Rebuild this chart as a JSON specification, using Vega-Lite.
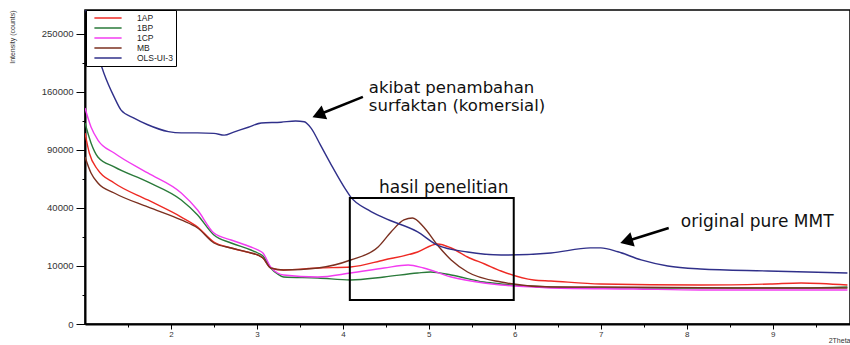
{
  "$schema": "https://vega.github.io/schema/vega-lite/v6.json",
  "width": 765,
  "height": 314,
  "autosize": {"type": "none"},
  "padding": {"left": 85, "top": 10, "right": 0, "bottom": 21},
  "background": "white",
  "config": {
    "view": {"stroke": "#000", "strokeWidth": 1.5},
    "font": "Liberation Sans",
    "axis": {"grid": false, "domainColor": "#000", "tickColor": "#000", "labelColor": "#333", "labelFont": "Liberation Sans", "titleFont": "Liberation Sans", "titleFontWeight": "normal", "titleColor": "#333"}
  },
  "datasets": {
    "xrd": [
      {"s":"1AP","t":1.0,"i":108400},{"s":"1AP","t":1.05,"i":86900},{"s":"1AP","t":1.15,"i":70500},{"s":"1AP","t":1.34,"i":59100},{"s":"1AP","t":1.73,"i":45700},{"s":"1AP","t":2.12,"i":34000},{"s":"1AP","t":2.31,"i":27970},{"s":"1AP","t":2.5,"i":19990},{"s":"1AP","t":2.7,"i":17170},{"s":"1AP","t":2.93,"i":14980},{"s":"1AP","t":3.01,"i":14150},{"s":"1AP","t":3.07,"i":12950},{"s":"1AP","t":3.16,"i":9320},{"s":"1AP","t":3.31,"i":8670},{"s":"1AP","t":3.71,"i":9320},{"s":"1AP","t":4.09,"i":9660},{"s":"1AP","t":4.48,"i":12180},{"s":"1AP","t":4.87,"i":15410},{"s":"1AP","t":5.1,"i":19020},{"s":"1AP","t":5.26,"i":17170},{"s":"1AP","t":5.45,"i":13340},{"s":"1AP","t":5.65,"i":10700},{"s":"1AP","t":5.84,"i":8350},{"s":"1AP","t":6.22,"i":5760},{"s":"1AP","t":6.42,"i":5500},{"s":"1AP","t":7.0,"i":4760},{"s":"1AP","t":8.16,"i":4520},{"s":"1AP","t":8.97,"i":4760},{"s":"1AP","t":9.33,"i":5000},{"s":"1AP","t":9.87,"i":4520},
      {"s":"1BP","t":1.0,"i":120100},{"s":"1BP","t":1.07,"i":97400},{"s":"1BP","t":1.15,"i":82900},{"s":"1BP","t":1.34,"i":73300},{"s":"1BP","t":1.73,"i":59940},{"s":"1BP","t":2.12,"i":45700},{"s":"1BP","t":2.31,"i":35300},{"s":"1BP","t":2.5,"i":23550},{"s":"1BP","t":2.7,"i":19500},{"s":"1BP","t":2.93,"i":16280},{"s":"1BP","t":3.01,"i":14980},{"s":"1BP","t":3.07,"i":13740},{"s":"1BP","t":3.16,"i":9320},{"s":"1BP","t":3.24,"i":7430},{"s":"1BP","t":3.31,"i":6570},{"s":"1BP","t":3.71,"i":6290},{"s":"1BP","t":4.09,"i":5760},{"s":"1BP","t":4.48,"i":6570},{"s":"1BP","t":4.87,"i":7730},{"s":"1BP","t":5.02,"i":8040},{"s":"1BP","t":5.26,"i":7140},{"s":"1BP","t":5.64,"i":5240},{"s":"1BP","t":5.84,"i":4760},{"s":"1BP","t":6.42,"i":4070},{"s":"1BP","t":7.0,"i":3850},{"s":"1BP","t":8.16,"i":3850},{"s":"1BP","t":9.33,"i":3850},{"s":"1BP","t":9.87,"i":4070},
      {"s":"1CP","t":1.0,"i":138700},{"s":"1CP","t":1.07,"i":115400},{"s":"1CP","t":1.15,"i":100600},{"s":"1CP","t":1.34,"i":86900},{"s":"1CP","t":1.73,"i":67800},{"s":"1CP","t":2.12,"i":51000},{"s":"1CP","t":2.31,"i":38600},{"s":"1CP","t":2.5,"i":24600},{"s":"1CP","t":2.7,"i":20970},{"s":"1CP","t":2.93,"i":17620},{"s":"1CP","t":3.01,"i":16280},{"s":"1CP","t":3.07,"i":14980},{"s":"1CP","t":3.16,"i":9660},{"s":"1CP","t":3.24,"i":7730},{"s":"1CP","t":3.31,"i":7140},{"s":"1CP","t":3.71,"i":6570},{"s":"1CP","t":4.09,"i":7730},{"s":"1CP","t":4.48,"i":9320},{"s":"1CP","t":4.76,"i":10350},{"s":"1CP","t":4.94,"i":9320},{"s":"1CP","t":5.26,"i":6570},{"s":"1CP","t":5.64,"i":5000},{"s":"1CP","t":5.84,"i":4520},{"s":"1CP","t":6.22,"i":4070},{"s":"1CP","t":6.42,"i":3850},{"s":"1CP","t":7.38,"i":3640},{"s":"1CP","t":8.16,"i":3440},{"s":"1CP","t":9.87,"i":3440},
      {"s":"MB","t":1.0,"i":82900},{"s":"MB","t":1.07,"i":67800},{"s":"MB","t":1.15,"i":59100},{"s":"MB","t":1.34,"i":51000},{"s":"MB","t":1.73,"i":40700},{"s":"MB","t":2.12,"i":32150},{"s":"MB","t":2.31,"i":27400},{"s":"MB","t":2.5,"i":19500},{"s":"MB","t":2.7,"i":17170},{"s":"MB","t":2.93,"i":14980},{"s":"MB","t":3.01,"i":14150},{"s":"MB","t":3.07,"i":12950},{"s":"MB","t":3.16,"i":9320},{"s":"MB","t":3.31,"i":8670},{"s":"MB","t":3.71,"i":9320},{"s":"MB","t":4.09,"i":12180},{"s":"MB","t":4.41,"i":17620},{"s":"MB","t":4.56,"i":25160},{"s":"MB","t":4.71,"i":32150},{"s":"MB","t":4.81,"i":33400},{"s":"MB","t":4.94,"i":27970},{"s":"MB","t":5.1,"i":18550},{"s":"MB","t":5.26,"i":12180},{"s":"MB","t":5.45,"i":8040},{"s":"MB","t":5.84,"i":5240},{"s":"MB","t":6.42,"i":4070},{"s":"MB","t":7.0,"i":4070},{"s":"MB","t":8.55,"i":3850},{"s":"MB","t":9.87,"i":3850},
      {"s":"OLS-UI-3","t":1.0,"i":300000},{"s":"OLS-UI-3","t":1.08,"i":250000},{"s":"OLS-UI-3","t":1.15,"i":215000},{"s":"OLS-UI-3","t":1.22,"i":187000},{"s":"OLS-UI-3","t":1.34,"i":153000},{"s":"OLS-UI-3","t":1.42,"i":136000},{"s":"OLS-UI-3","t":1.57,"i":126000},{"s":"OLS-UI-3","t":1.73,"i":118000},{"s":"OLS-UI-3","t":1.97,"i":110000},{"s":"OLS-UI-3","t":2.12,"i":108500},{"s":"OLS-UI-3","t":2.31,"i":108500},{"s":"OLS-UI-3","t":2.5,"i":108000},{"s":"OLS-UI-3","t":2.62,"i":106000},{"s":"OLS-UI-3","t":2.73,"i":109500},{"s":"OLS-UI-3","t":2.9,"i":115000},{"s":"OLS-UI-3","t":3.05,"i":120000},{"s":"OLS-UI-3","t":3.28,"i":121000},{"s":"OLS-UI-3","t":3.45,"i":122500},{"s":"OLS-UI-3","t":3.55,"i":121500},{"s":"OLS-UI-3","t":3.63,"i":114000},{"s":"OLS-UI-3","t":3.74,"i":95000},{"s":"OLS-UI-3","t":3.86,"i":76000},{"s":"OLS-UI-3","t":4.03,"i":54000},{"s":"OLS-UI-3","t":4.09,"i":48000},{"s":"OLS-UI-3","t":4.3,"i":38600},{"s":"OLS-UI-3","t":4.48,"i":33400},{"s":"OLS-UI-3","t":4.87,"i":25200},{"s":"OLS-UI-3","t":5.1,"i":18500},{"s":"OLS-UI-3","t":5.45,"i":15400},{"s":"OLS-UI-3","t":5.84,"i":14150},{"s":"OLS-UI-3","t":6.42,"i":15000},{"s":"OLS-UI-3","t":6.88,"i":17200},{"s":"OLS-UI-3","t":7.0,"i":17200},{"s":"OLS-UI-3","t":7.2,"i":15500},{"s":"OLS-UI-3","t":7.47,"i":12200},{"s":"OLS-UI-3","t":7.78,"i":10000},{"s":"OLS-UI-3","t":8.16,"i":9000},{"s":"OLS-UI-3","t":8.94,"i":8350},{"s":"OLS-UI-3","t":9.87,"i":7730}
    ],
    "notes": [
      {"x": 4.302, "y": 177000, "label": "akibat penambahan\nsurfaktan (komersial)", "kind": "left"},
      {"x": 5.174, "y": 55000, "label": "hasil penelitian", "kind": "center"},
      {"x": 8.82, "y": 30930, "label": "original pure MMT", "kind": "center"}
    ],
    "arrows": [
      {"id": "a1", "x": 4.233, "y": 153200, "x2": 3.716, "y2": 130100},
      {"id": "a2", "x": 7.791, "y": 27400, "x2": 7.299, "y2": 20380}
    ],
    "box": [{"x": 4.081, "x2": 5.988, "y": 47200, "y2": 1710}]
  },
  "layer": [
    {
      "data": {"name": "xrd"},
      "mark": {"type": "line", "strokeWidth": 1.4, "clip": true, "interpolate": "monotone"},
      "encoding": {
        "x": {"field": "t", "type": "quantitative", "scale": {"domain": [1, 9.9], "nice": false, "zero": false},
          "axis": {"values": [2,3,4,5,6,7,8,9], "labelFontSize": 8, "tickSize": 5, "tickWidth": 1, "domainWidth": 2, "labelPadding": 1,
            "title": "2Theta", "titleFontSize": 7, "titleAnchor": "end", "titleAlign": "right", "titleBaseline": "middle", "titleX": 765, "titleY": 16}},
        "y": {"field": "i", "type": "quantitative", "scale": {"type": "sqrt", "domain": [0, 293000], "nice": false},
          "axis": {"values": [0,10000,40000,90000,160000,250000], "format": "d", "labelFontSize": 9.5, "tickSize": 9, "tickWidth": 1, "domainWidth": 2, "labelPadding": 3,
            "title": "Intensity (counts)", "titleFontSize": 7, "titleAngle": -90, "titleAlign": "right", "titleBaseline": "middle", "titleX": -73, "titleY": 0}},
        "color": {"field": "s", "type": "nominal",
          "scale": {"domain": ["1AP","1BP","1CP","MB","OLS-UI-3"], "range": ["#ee2a24","#2a7a3a","#f23cf0","#7b3020","#30308a"]},
          "legend": {"orient": "none", "legendX": 1, "legendY": 0, "title": null, "symbolType": "M-3.4,0H3.4", "symbolSize": 64, "symbolStrokeWidth": 1.5, "symbolOffset": 14,
            "labelFontSize": 8.5, "labelColor": "#222", "labelOffset": 24, "labelExpr": "datum.label + '   '", "fillColor": "white", "strokeColor": "#000", "padding": 3, "rowPadding": -2.5}}
      }
    },
    {
      "data": {"name": "box"},
      "mark": {"type": "rect", "fill": null, "fillOpacity": 0, "stroke": "#000", "strokeWidth": 2},
      "encoding": {
        "x": {"field": "x", "type": "quantitative", "axis": {"orient": "bottom", "values": [1.5,2.5,3.5,4.5,5.5,6.5,7.5,8.5,9.5], "labels": false, "domain": false, "tickSize": 3, "tickWidth": 1, "title": null}},
        "x2": {"field": "x2"},
        "y": {"field": "y", "type": "quantitative", "axis": {"orient": "left", "values": [2500,22500,62500,122500,202500], "labels": false, "domain": false, "tickSize": 3, "tickWidth": 1, "title": null}},
        "y2": {"field": "y2"}
      }
    },
    {
      "data": {"name": "arrows"},
      "mark": {"type": "rule", "stroke": "#000", "strokeWidth": 2.5},
      "encoding": {
        "x": {"field": "x", "type": "quantitative", "axis": null},
        "y": {"field": "y", "type": "quantitative", "axis": null},
        "x2": {"field": "x2"},
        "y2": {"field": "y2"}
      }
    },
    {
      "data": {"name": "arrows"},
      "transform": [{"filter": "datum.id == 'a1'"}],
      "mark": {"type": "point", "shape": "triangle-up", "filled": true, "color": "#000", "opacity": 1, "size": 220, "angle": 248},
      "encoding": {
        "x": {"field": "x2", "type": "quantitative", "axis": null},
        "y": {"field": "y2", "type": "quantitative", "axis": null}
      }
    },
    {
      "data": {"name": "arrows"},
      "transform": [{"filter": "datum.id == 'a2'"}],
      "mark": {"type": "point", "shape": "triangle-up", "filled": true, "color": "#000", "opacity": 1, "size": 220, "angle": 253},
      "encoding": {
        "x": {"field": "x2", "type": "quantitative", "axis": null},
        "y": {"field": "y2", "type": "quantitative", "axis": null}
      }
    },
    {
      "data": {"name": "notes"},
      "transform": [{"filter": "datum.kind == 'left'"}],
      "mark": {"type": "text", "align": "left", "baseline": "top", "lineBreak": "\n", "lineHeight": 18, "font": "DejaVu Sans", "fontSize": 16.5, "color": "#111"},
      "encoding": {
        "x": {"field": "x", "type": "quantitative", "axis": null},
        "y": {"field": "y", "type": "quantitative", "axis": null},
        "text": {"field": "label"}
      }
    },
    {
      "data": {"name": "notes"},
      "transform": [{"filter": "datum.kind == 'center'"}],
      "mark": {"type": "text", "align": "center", "baseline": "middle", "font": "DejaVu Sans", "fontSize": 17, "color": "#111"},
      "encoding": {
        "x": {"field": "x", "type": "quantitative", "axis": null},
        "y": {"field": "y", "type": "quantitative", "axis": null},
        "text": {"field": "label"}
      }
    }
  ],
  "resolve": {"axis": {"x": "independent", "y": "independent"}}
}
